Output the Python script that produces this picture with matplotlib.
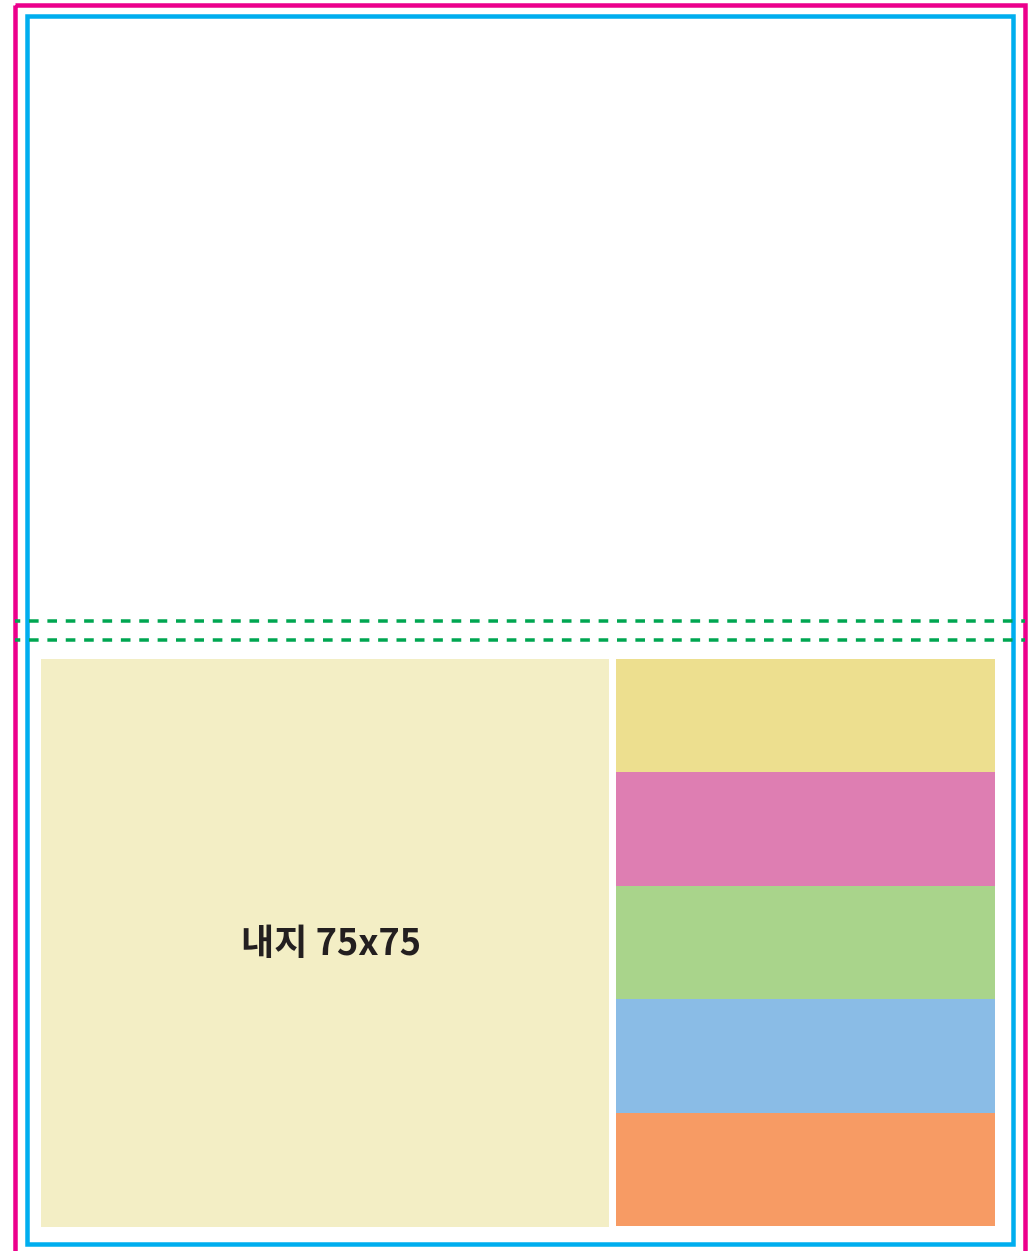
import matplotlib
matplotlib.use("Agg")
import matplotlib.pyplot as plt
from matplotlib.patches import Rectangle

W, H = 1035, 1251

# content
label = "내지 75x75"
strip_colors = ["#EDDF8F", "#DE7EB2", "#A9D48B", "#8ABCE6", "#F79B64"]
main_color = "#F3EEC5"

fig = plt.figure(figsize=(W / 100, H / 100), dpi=100)
ax = fig.add_axes([0, 0, 1, 1])
ax.set_xlim(0, W)
ax.set_ylim(H, 0)
ax.axis("off")

px = 0.72  # points per pixel at dpi 100

# main panel
ax.add_patch(Rectangle((41, 659), 568, 568, facecolor=main_color, edgecolor="none"))
ax.text(331, 944, label, ha="center", va="center", fontsize=26,
        family=["Noto Sans CJK KR", "DejaVu Sans"], weight="bold", color="#231F20")

# stacked strips on the right
top, bottom = 659, 1226
h = (bottom - top) / len(strip_colors)
for i, c in enumerate(strip_colors):
    ax.add_patch(Rectangle((616, top + i * h), 379, h, facecolor=c, edgecolor="none"))

# guide frames
lw = 4.5 * px
ax.add_patch(Rectangle((15, 5), 1010, 1400, fill=False, edgecolor="#EC008C",
                       linewidth=lw, joinstyle="miter"))
ax.add_patch(Rectangle((27, 16), 986, 1228, fill=False, edgecolor="#00AEEF",
                       linewidth=lw, joinstyle="miter"))

# dashed fold lines
for y in (621, 640):
    ax.plot([15, 1025], [y, y], color="#00A651", linewidth=3.5 * px,
            linestyle=(1.25, (2.75, 2.5)), solid_capstyle="butt")

fig.savefig("out.png", dpi=100)
